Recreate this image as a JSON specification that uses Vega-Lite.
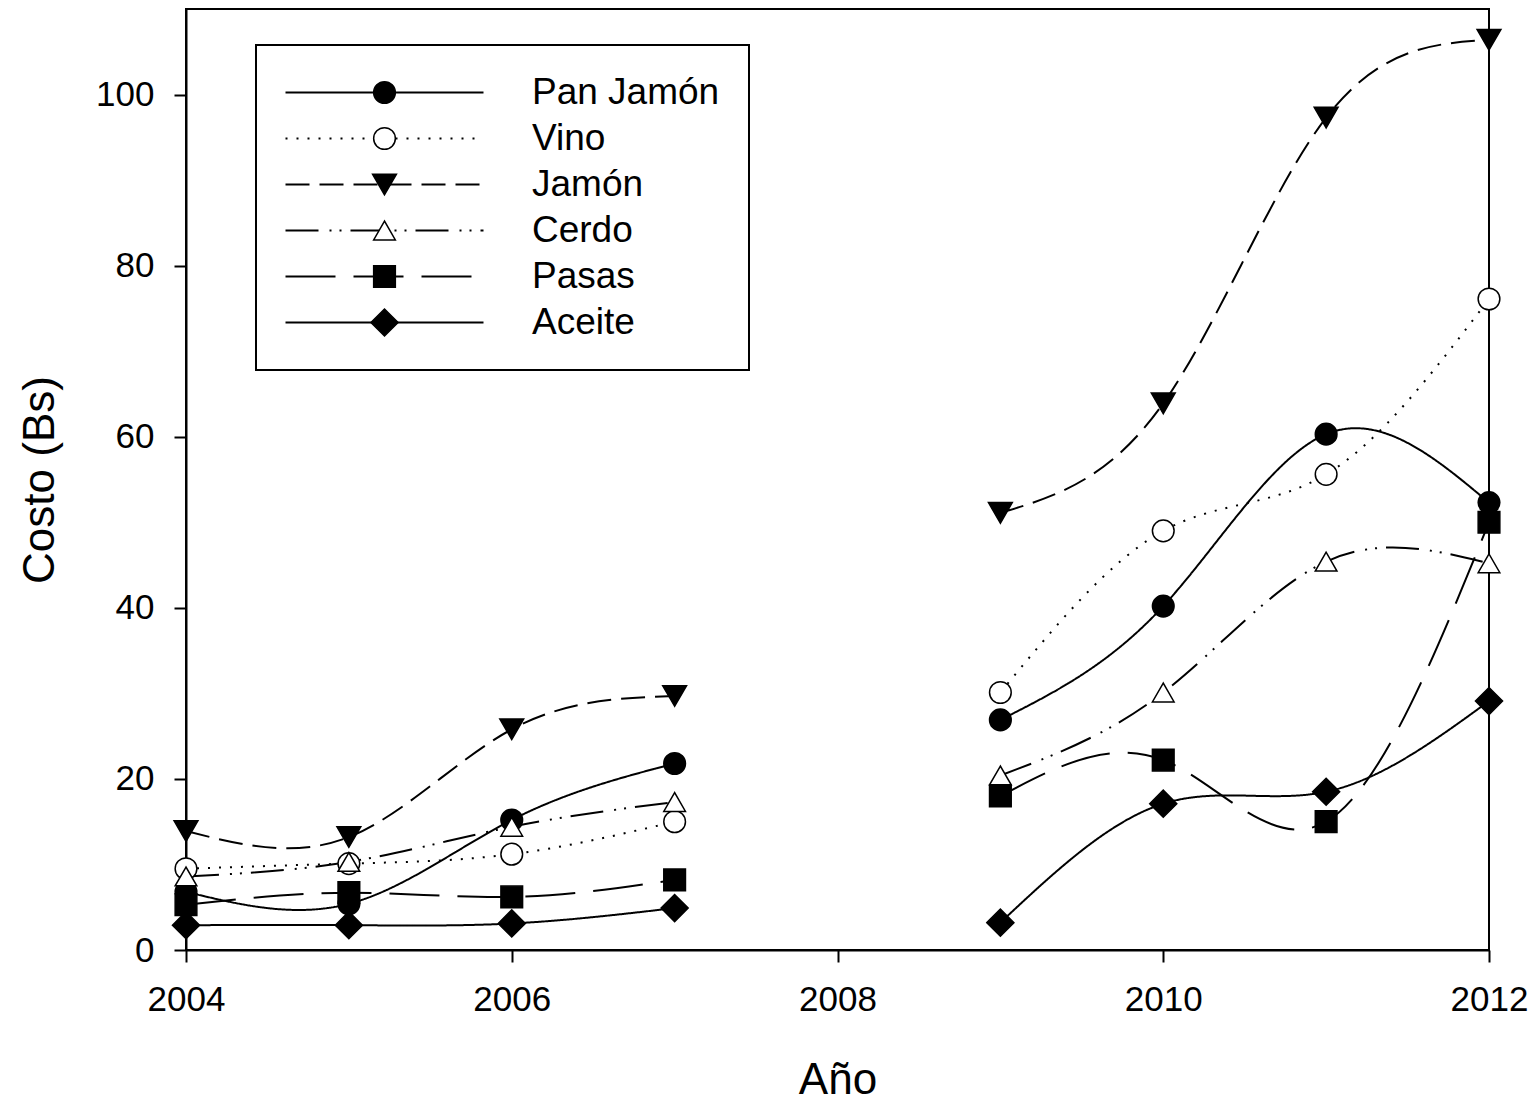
{
  "$schema": "https://vega.github.io/schema/vega-lite/v6.json",
  "width": 1303,
  "height": 941,
  "autosize": {"type": "none"},
  "padding": {"left": 186, "top": 9, "right": 50, "bottom": 151},
  "background": "white",
  "data": {
    "values": [
      {"serie": "Pan Jamón", "anio": 2004, "costo": 6.8, "tramo": "a"},
      {"serie": "Pan Jamón", "anio": 2005, "costo": 5.4, "tramo": "a"},
      {"serie": "Pan Jamón", "anio": 2006, "costo": 15.2, "tramo": "a"},
      {"serie": "Pan Jamón", "anio": 2007, "costo": 21.8, "tramo": "a"},
      {"serie": "Pan Jamón", "anio": 2009, "costo": 26.9, "tramo": "b"},
      {"serie": "Pan Jamón", "anio": 2010, "costo": 40.2, "tramo": "b"},
      {"serie": "Pan Jamón", "anio": 2011, "costo": 60.3, "tramo": "b"},
      {"serie": "Pan Jamón", "anio": 2012, "costo": 52.3, "tramo": "b"},
      {"serie": "Vino", "anio": 2004, "costo": 9.5, "tramo": "a"},
      {"serie": "Vino", "anio": 2005, "costo": 10.1, "tramo": "a"},
      {"serie": "Vino", "anio": 2006, "costo": 11.2, "tramo": "a"},
      {"serie": "Vino", "anio": 2007, "costo": 15.0, "tramo": "a"},
      {"serie": "Vino", "anio": 2009, "costo": 30.1, "tramo": "b"},
      {"serie": "Vino", "anio": 2010, "costo": 49.0, "tramo": "b"},
      {"serie": "Vino", "anio": 2011, "costo": 55.6, "tramo": "b"},
      {"serie": "Vino", "anio": 2012, "costo": 76.1, "tramo": "b"},
      {"serie": "Jamón", "anio": 2004, "costo": 13.9, "tramo": "a"},
      {"serie": "Jamón", "anio": 2005, "costo": 13.2, "tramo": "a"},
      {"serie": "Jamón", "anio": 2006, "costo": 25.8, "tramo": "a"},
      {"serie": "Jamón", "anio": 2007, "costo": 29.7, "tramo": "a"},
      {"serie": "Jamón", "anio": 2009, "costo": 51.1, "tramo": "b"},
      {"serie": "Jamón", "anio": 2010, "costo": 63.9, "tramo": "b"},
      {"serie": "Jamón", "anio": 2011, "costo": 97.3, "tramo": "b"},
      {"serie": "Jamón", "anio": 2012, "costo": 106.4, "tramo": "b"},
      {"serie": "Cerdo", "anio": 2004, "costo": 8.6, "tramo": "a"},
      {"serie": "Cerdo", "anio": 2005, "costo": 10.3, "tramo": "a"},
      {"serie": "Cerdo", "anio": 2006, "costo": 14.4, "tramo": "a"},
      {"serie": "Cerdo", "anio": 2007, "costo": 17.3, "tramo": "a"},
      {"serie": "Cerdo", "anio": 2009, "costo": 20.4, "tramo": "b"},
      {"serie": "Cerdo", "anio": 2010, "costo": 30.1, "tramo": "b"},
      {"serie": "Cerdo", "anio": 2011, "costo": 45.4, "tramo": "b"},
      {"serie": "Cerdo", "anio": 2012, "costo": 45.2, "tramo": "b"},
      {"serie": "Pasas", "anio": 2004, "costo": 5.3, "tramo": "a"},
      {"serie": "Pasas", "anio": 2005, "costo": 6.7, "tramo": "a"},
      {"serie": "Pasas", "anio": 2006, "costo": 6.2, "tramo": "a"},
      {"serie": "Pasas", "anio": 2007, "costo": 8.2, "tramo": "a"},
      {"serie": "Pasas", "anio": 2009, "costo": 18.0, "tramo": "b"},
      {"serie": "Pasas", "anio": 2010, "costo": 22.2, "tramo": "b"},
      {"serie": "Pasas", "anio": 2011, "costo": 15.0, "tramo": "b"},
      {"serie": "Pasas", "anio": 2012, "costo": 50.0, "tramo": "b"},
      {"serie": "Aceite", "anio": 2004, "costo": 2.9, "tramo": "a"},
      {"serie": "Aceite", "anio": 2005, "costo": 2.9, "tramo": "a"},
      {"serie": "Aceite", "anio": 2006, "costo": 3.1, "tramo": "a"},
      {"serie": "Aceite", "anio": 2007, "costo": 4.9, "tramo": "a"},
      {"serie": "Aceite", "anio": 2009, "costo": 3.2, "tramo": "b"},
      {"serie": "Aceite", "anio": 2010, "costo": 17.1, "tramo": "b"},
      {"serie": "Aceite", "anio": 2011, "costo": 18.5, "tramo": "b"},
      {"serie": "Aceite", "anio": 2012, "costo": 29.1, "tramo": "b"}
    ]
  },
  "layer": [
    {
      "mark": {"type": "line", "interpolate": "natural", "color": "black", "strokeWidth": 2},
      "encoding": {
        "x": {
          "field": "anio", "type": "quantitative",
          "scale": {"domain": [2004, 2012], "nice": false, "zero": false},
          "axis": {"title": "Año", "values": [2004, 2006, 2008, 2010, 2012], "format": "d", "labelFlush": false, "labelPadding": 20, "titlePadding": 41, "labelOverlap": false}
        },
        "y": {
          "field": "costo", "type": "quantitative",
          "scale": {"domain": [0, 110], "nice": false},
          "axis": {"title": "Costo (Bs)", "values": [0, 20, 40, 60, 80, 100], "labelPadding": 20, "titlePadding": 33, "labelOverlap": false}
        },
        "strokeDash": {
          "field": "serie", "type": "nominal",
          "sort": ["Pan Jamón", "Vino", "Jamón", "Cerdo", "Pasas", "Aceite"],
          "scale": {"range": [[1, 0], [2, 9], [24, 10], [33, 11, 2, 8, 2, 9], [50, 18], [1, 0]]},
          "legend": {
            "orient": "none", "legendX": 70, "legendY": 36, "title": null, "direction": "vertical",
            "symbolType": "M-9,0H9", "symbolSize": 484, "symbolStrokeWidth": 2, "symbolStrokeColor": "black",
            "symbolOffset": 81, "labelOffset": 129, "labelFont": "Liberation Sans", "labelFontSize": 37,
            "labelColor": "black", "labelLimit": 400, "rowPadding": 8, "padding": 29,
            "strokeColor": "black", "fillColor": "white", "zindex": 1,
            "encoding": {"legend": {"strokeWidth": {"value": 2}}}
          }
        },
        "detail": {"field": "tramo", "type": "nominal"}
      }
    },
    {
      "mark": {"type": "point", "filled": true, "stroke": "black", "strokeWidth": 1.5, "size": 470, "opacity": 1},
      "encoding": {
        "x": {"field": "anio", "type": "quantitative"},
        "y": {"field": "costo", "type": "quantitative"},
        "shape": {
          "field": "serie", "type": "nominal",
          "scale": {
            "domain": ["Pan Jamón", "Vino", "Jamón", "Cerdo", "Pasas", "Aceite"],
            "range": ["circle", "circle", "M0,0.95L-1.1,-0.95L1.1,-0.95Z", "triangle-up", "square", "M-1.25,0L0,-1.25L1.25,0L0,1.25Z"]
          },
          "legend": {
            "orient": "none", "legendX": 70, "legendY": 36, "title": null, "direction": "vertical",
            "symbolSize": 470, "symbolStrokeWidth": 1.5, "symbolStrokeColor": "black",
            "symbolOffset": 81, "labelOffset": 129, "labelFont": "Liberation Sans", "labelFontSize": 37,
            "labelColor": "black", "labelOpacity": 0, "labelLimit": 400, "rowPadding": 8, "padding": 29,
            "zindex": 2,
            "encoding": {"symbols": {
              "fill": {"condition": {"test": "datum.value === 'Vino' || datum.value === 'Cerdo'", "value": "white"}, "value": "black"},
              "stroke": {"value": "black"},
              "strokeWidth": {"value": 1.5},
              "strokeOpacity": {"value": 1}
            }}
          }
        },
        "fill": {"condition": {"test": "datum.serie === 'Vino' || datum.serie === 'Cerdo'", "value": "white"}, "value": "black"}
      }
    }
  ],
  "config": {
    "font": "Liberation Sans",
    "view": {"stroke": "black", "strokeWidth": 2},
    "axis": {
      "domainColor": "black", "domainWidth": 2, "tickColor": "black", "tickWidth": 2, "tickSize": 12,
      "labelColor": "black", "titleColor": "black", "labelFont": "Liberation Sans", "titleFont": "Liberation Sans",
      "labelFontSize": 35, "titleFontSize": 44, "titleFontWeight": "normal", "grid": false
    }
  }
}
